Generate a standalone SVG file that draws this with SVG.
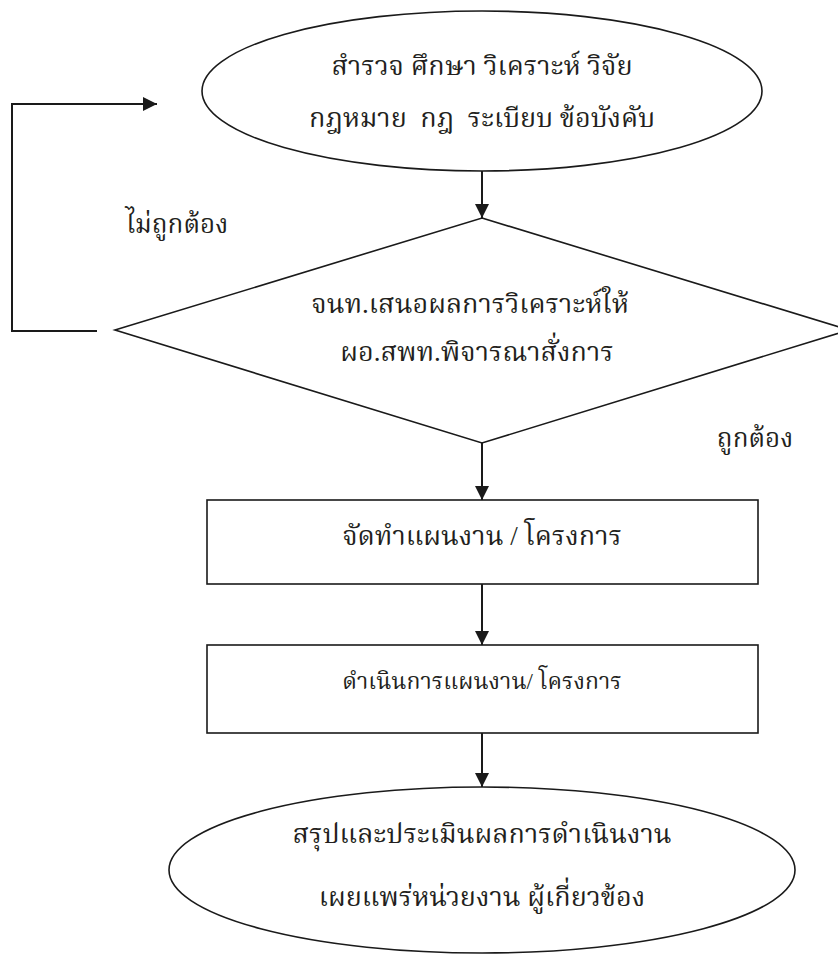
<svg xmlns="http://www.w3.org/2000/svg" width="838" height="955" viewBox="0 0 838 955">
<defs>
<marker id="ah" viewBox="0 0 10 10" refX="10" refY="5" markerWidth="14" markerHeight="14" markerUnits="userSpaceOnUse" orient="auto">
<path d="M0,0 L10,5 L0,10 z" fill="#1a1a1a"/>
</marker>
</defs>
<style>
.shape{fill:#fff;stroke:#1a1a1a;stroke-width:1.6}
.con{fill:none;stroke:#1a1a1a;stroke-width:2}
text{font-family:"Liberation Serif","Noto Serif Thai","Noto Sans Thai",serif;fill:#231f20;text-anchor:middle;white-space:pre}
.t{font-size:27px}
.l{font-size:26px}
.s{font-size:23px}
</style>
<rect width="838" height="955" fill="#fff"/>
<g id="n1">
<ellipse class="shape" cx="482" cy="91" rx="280" ry="80"/>
<text class="t" x="482" y="75">สำรวจ ศึกษา วิเคราะห์ วิจัย</text>
<text class="t" x="482" y="127" xml:space="preserve">กฎหมาย  กฎ  ระเบียบ ข้อบังคับ</text>
</g>
<g id="n2">
<polygon class="shape" points="482,218 849,330 482,443 115,330"/>
<text class="t" x="470" y="313">จนท.เสนอผลการวิเคราะห์ให้</text>
<text class="t" x="477" y="361">ผอ.สพท.พิจารณาสั่งการ</text>
</g>
<g id="n3">
<rect class="shape" x="207" y="500" width="551" height="84"/>
<text class="t" x="482" y="545">จัดทำแผนงาน / โครงการ</text>
</g>
<g id="n4">
<rect class="shape" x="207" y="645" width="551" height="88"/>
<text class="s" x="482" y="689">ดำเนินการแผนงาน/ โครงการ</text>
</g>
<g id="n5">
<ellipse class="shape" cx="482" cy="870" rx="313" ry="83"/>
<text class="t" x="482" y="843">สรุปและประเมินผลการดำเนินงาน</text>
<text class="t" x="482" y="906">เผยแพร่หน่วยงาน ผู้เกี่ยวข้อง</text>
</g>
<g id="labels">
<text class="l" x="177" y="233">ไม่ถูกต้อง</text>
<text class="l" x="755" y="447">ถูกต้อง</text>
</g>
<g id="connectors">
<line class="con" x1="482" y1="171" x2="482" y2="218" marker-end="url(#ah)"/>
<line class="con" x1="482" y1="443" x2="482" y2="500" marker-end="url(#ah)"/>
<line class="con" x1="482" y1="584" x2="482" y2="645" marker-end="url(#ah)"/>
<line class="con" x1="482" y1="733" x2="482" y2="787" marker-end="url(#ah)"/>
<polyline class="con" points="97,331 12,331 12,104 157,104" marker-end="url(#ah)"/>
</g>
</svg>
